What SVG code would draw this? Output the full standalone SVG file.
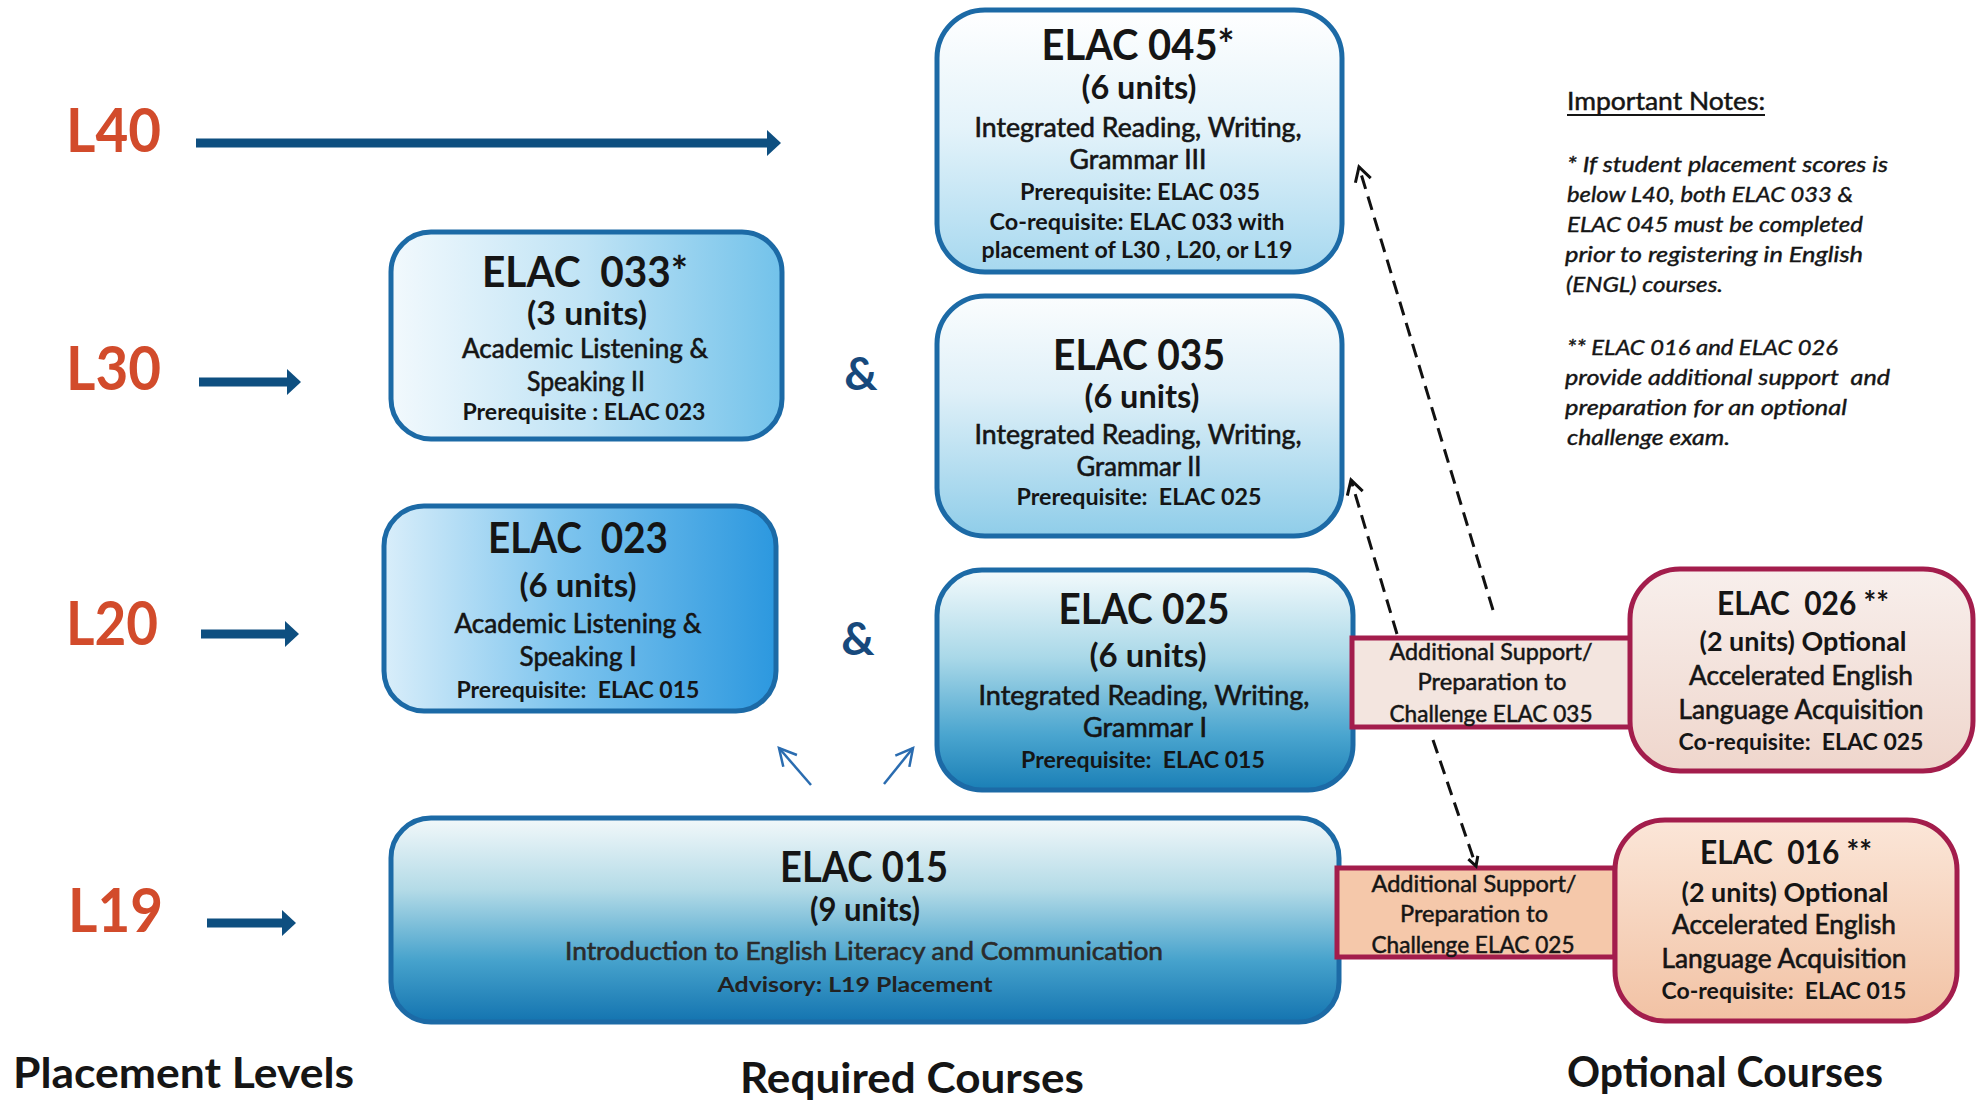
<svg xmlns="http://www.w3.org/2000/svg" width="1981" height="1102" viewBox="0 0 1981 1102">
<style>
text { font-family: Lato, "Open Sans", "Liberation Sans", sans-serif; fill: #151515; }
.c { text-anchor: middle; }
.b { font-weight: 700; }
.w { stroke: #151515; stroke-width: 0.6px; }
.lvl { font-weight: 700; font-size: 62px; fill: #d24b2b; }
.amp { font-weight: 700; font-size: 46px; fill: #17497c; text-anchor: middle; }
.title { font-weight: 700; font-size: 42px; }
.units { font-weight: 700; font-size: 32px; }
.body { font-size: 26px; stroke: #151515; stroke-width: 0.6px; }
.req { font-weight: 700; font-size: 22px; }
.sup { font-size: 23px; stroke: #151515; stroke-width: 0.5px; }
.note { font-size: 21px; font-style: italic; stroke: #151515; stroke-width: 0.4px; }
.foot { font-weight: 700; font-size: 42px; }
.blue { stroke: #1c6aa6; stroke-width: 5; }
.red { stroke: #a31d4c; stroke-width: 5; }
.dash { stroke: #111; stroke-width: 3; stroke-dasharray: 14 8; fill: none; }
.thick { stroke: #0e4f80; stroke-width: 9; fill: none; }
.thin { stroke: #2a6cb0; stroke-width: 2.5; fill: none; }
</style>
<defs>
<linearGradient id="gPale" x1="0" y1="0" x2="0" y2="1">
<stop offset="0" stop-color="#ffffff"/><stop offset="0.45" stop-color="#e4f3fa"/><stop offset="1" stop-color="#a6d8ef"/>
</linearGradient>
<linearGradient id="gPale2" x1="0" y1="0" x2="0" y2="1">
<stop offset="0" stop-color="#fbfdfe"/><stop offset="0.4" stop-color="#dff0f8"/><stop offset="1" stop-color="#8fcde9"/>
</linearGradient>
<linearGradient id="g033" x1="0" y1="0" x2="1" y2="0">
<stop offset="0" stop-color="#f2f9fd"/><stop offset="0.5" stop-color="#bfe3f5"/><stop offset="1" stop-color="#72c2ea"/>
</linearGradient>
<linearGradient id="g023" x1="0" y1="0" x2="1" y2="0">
<stop offset="0" stop-color="#d9eefa"/><stop offset="0.45" stop-color="#7fc5ee"/><stop offset="1" stop-color="#2c98df"/>
</linearGradient>
<linearGradient id="g025" x1="0" y1="0" x2="0" y2="1">
<stop offset="0" stop-color="#f3fafc"/><stop offset="0.4" stop-color="#a9d8e8"/><stop offset="0.75" stop-color="#4aa5cf"/><stop offset="1" stop-color="#1a7fb6"/>
</linearGradient>
<linearGradient id="g015" x1="0" y1="0" x2="0" y2="1">
<stop offset="0" stop-color="#f2f8fa"/><stop offset="0.35" stop-color="#b4dbe7"/><stop offset="0.7" stop-color="#46a2cc"/><stop offset="1" stop-color="#1474b0"/>
</linearGradient>
<linearGradient id="g026" x1="0" y1="0" x2="0" y2="1">
<stop offset="0" stop-color="#f8efec"/><stop offset="1" stop-color="#efd6cc"/>
</linearGradient>
<linearGradient id="g016" x1="0" y1="0" x2="0" y2="1">
<stop offset="0" stop-color="#fbe6d8"/><stop offset="1" stop-color="#f2c2a4"/>
</linearGradient>
<marker id="fat" markerUnits="userSpaceOnUse" markerWidth="14" markerHeight="26" refX="0" refY="13" orient="auto">
<path d="M0,0 L14,13 L0,26 z" fill="#0e4f80"/>
</marker>
<marker id="chev" markerUnits="userSpaceOnUse" markerWidth="20" markerHeight="20" refX="16" refY="10" orient="auto">
<path d="M2,2 L16,10 L2,18" fill="none" stroke="#111" stroke-width="3"/>
</marker>
<marker id="chevS" markerUnits="userSpaceOnUse" markerWidth="14" markerHeight="14" refX="11" refY="7" orient="auto">
<path d="M2,2 L11,7 L2,12" fill="none" stroke="#111" stroke-width="3"/>
</marker>
<marker id="bchev" markerUnits="userSpaceOnUse" markerWidth="24" markerHeight="24" refX="20" refY="12" orient="auto">
<path d="M3,3 L20,12 L3,21" fill="none" stroke="#2a6cb0" stroke-width="2.5"/>
</marker>
</defs>
<rect width="1981" height="1102" fill="#ffffff"/>

<g id="levels">
<text class="lvl" x="66" y="152" textLength="95" lengthAdjust="spacingAndGlyphs">L40</text>
<text class="lvl" x="66" y="390" textLength="95" lengthAdjust="spacingAndGlyphs">L30</text>
<text class="lvl" x="66" y="645" textLength="92" lengthAdjust="spacingAndGlyphs">L20</text>
<text class="lvl" x="68" y="932" textLength="95" lengthAdjust="spacingAndGlyphs">L19</text>
</g>

<g id="connectors">
<line class="thick" x1="196" y1="143" x2="767" y2="143" marker-end="url(#fat)"/>
<line class="thick" x1="199" y1="382" x2="287" y2="382" marker-end="url(#fat)"/>
<line class="thick" x1="201" y1="634" x2="285" y2="634" marker-end="url(#fat)"/>
<line class="thick" x1="207" y1="923" x2="282" y2="923" marker-end="url(#fat)"/>
<line class="thin" x1="811" y1="785" x2="779" y2="748" marker-end="url(#bchev)"/>
<line class="thin" x1="884" y1="784" x2="913" y2="748" marker-end="url(#bchev)"/>
</g>

<g id="node-elac045">
<rect x="937" y="10" width="405" height="262" rx="48" fill="url(#gPale)" class="blue"/>
<text class="c title" x="1138" y="60" textLength="193" lengthAdjust="spacingAndGlyphs">ELAC 045*</text>
<text class="c units" x="1139" y="99" textLength="115" lengthAdjust="spacingAndGlyphs">(6 units)</text>
<text class="c body" x="1138" y="137" textLength="327" lengthAdjust="spacingAndGlyphs">Integrated Reading, Writing,</text>
<text class="c body" x="1138" y="169" textLength="137" lengthAdjust="spacingAndGlyphs">Grammar III</text>
<text class="c req" x="1140" y="200" textLength="240" lengthAdjust="spacingAndGlyphs">Prerequisite: ELAC 035</text>
<text class="c req" x="1137" y="230" textLength="295" lengthAdjust="spacingAndGlyphs">Co-requisite: ELAC 033 with</text>
<text class="c req" x="1137" y="258" textLength="311" lengthAdjust="spacingAndGlyphs">placement of L30 , L20, or L19</text>
</g>

<g id="node-elac033">
<rect x="391" y="232" width="391" height="207" rx="40" fill="url(#g033)" class="blue"/>
<text class="c title" x="585" y="287" textLength="206" lengthAdjust="spacingAndGlyphs" xml:space="preserve">ELAC  033*</text>
<text class="c units" x="587" y="325" textLength="120" lengthAdjust="spacingAndGlyphs">(3 units)</text>
<text class="c body" x="585" y="358" textLength="246" lengthAdjust="spacingAndGlyphs">Academic Listening &amp;</text>
<text class="c body" x="586" y="391" textLength="118" lengthAdjust="spacingAndGlyphs">Speaking II</text>
<text class="c req" x="584" y="420" textLength="243" lengthAdjust="spacingAndGlyphs">Prerequisite : ELAC 023</text>
</g>

<text class="amp" x="861" y="390">&amp;</text>
<text class="amp" x="858" y="655">&amp;</text>

<g id="node-elac035">
<rect x="937" y="296" width="405" height="240" rx="48" fill="url(#gPale2)" class="blue"/>
<text class="c title" x="1139" y="370" textLength="172" lengthAdjust="spacingAndGlyphs">ELAC 035</text>
<text class="c units" x="1142" y="408" textLength="115" lengthAdjust="spacingAndGlyphs">(6 units)</text>
<text class="c body" x="1138" y="444" textLength="327" lengthAdjust="spacingAndGlyphs">Integrated Reading, Writing,</text>
<text class="c body" x="1139" y="476" textLength="125" lengthAdjust="spacingAndGlyphs">Grammar II</text>
<text class="c req" x="1139" y="505" textLength="245" lengthAdjust="spacingAndGlyphs" xml:space="preserve">Prerequisite:  ELAC 025</text>
</g>

<g id="node-elac023">
<rect x="384" y="506" width="392" height="205" rx="40" fill="url(#g023)" class="blue"/>
<text class="c title" x="578" y="553" textLength="180" lengthAdjust="spacingAndGlyphs" xml:space="preserve">ELAC  023</text>
<text class="c units" x="578" y="597" textLength="117" lengthAdjust="spacingAndGlyphs">(6 units)</text>
<text class="c body" x="578" y="633" textLength="247" lengthAdjust="spacingAndGlyphs">Academic Listening &amp;</text>
<text class="c body" x="578" y="666" textLength="117" lengthAdjust="spacingAndGlyphs">Speaking I</text>
<text class="c req" x="578" y="698" textLength="243" lengthAdjust="spacingAndGlyphs" xml:space="preserve">Prerequisite:  ELAC 015</text>
</g>

<g id="node-elac025">
<rect x="937" y="570" width="416" height="220" rx="45" fill="url(#g025)" class="blue"/>
<text class="c title" x="1144" y="624" textLength="171" lengthAdjust="spacingAndGlyphs">ELAC 025</text>
<text class="c units" x="1148" y="667" textLength="117" lengthAdjust="spacingAndGlyphs">(6 units)</text>
<text class="c body" x="1144" y="705" textLength="331" lengthAdjust="spacingAndGlyphs">Integrated Reading, Writing,</text>
<text class="c body" x="1145" y="737" textLength="124" lengthAdjust="spacingAndGlyphs">Grammar I</text>
<text class="c req" x="1143" y="768" textLength="244" lengthAdjust="spacingAndGlyphs" xml:space="preserve">Prerequisite:  ELAC 015</text>
</g>

<g id="node-elac015">
<rect x="391" y="818" width="948" height="204" rx="40" fill="url(#g015)" class="blue"/>
<text class="c title" x="864" y="882" textLength="168" lengthAdjust="spacingAndGlyphs">ELAC 015</text>
<text class="c units" x="865" y="921" textLength="110" lengthAdjust="spacingAndGlyphs">(9 units)</text>
<text class="c body" x="864" y="960" textLength="598" lengthAdjust="spacingAndGlyphs" style="font-size:25px;fill:#2b2b2b;stroke:#2b2b2b">Introduction to English Literacy and Communication</text>
<text class="c req" x="855" y="992" textLength="275" lengthAdjust="spacingAndGlyphs" style="font-size:21px;fill:#222">Advisory: L19 Placement</text>
</g>

<g id="node-support035">
<rect x="1352" y="638" width="280" height="89" fill="#f3e5df" class="red"/>
<text class="c sup" x="1491" y="660" textLength="203" lengthAdjust="spacingAndGlyphs">Additional Support/</text>
<text class="c sup" x="1492" y="690" textLength="149" lengthAdjust="spacingAndGlyphs">Preparation to</text>
<text class="c sup" x="1491" y="722" textLength="203" lengthAdjust="spacingAndGlyphs">Challenge ELAC 035</text>
</g>

<g id="node-support025">
<rect x="1337" y="868" width="278" height="89" fill="#f5c8aa" class="red"/>
<text class="c sup" x="1474" y="892" textLength="205" lengthAdjust="spacingAndGlyphs">Additional Support/</text>
<text class="c sup" x="1474" y="922" textLength="148" lengthAdjust="spacingAndGlyphs">Preparation to</text>
<text class="c sup" x="1473" y="953" textLength="203" lengthAdjust="spacingAndGlyphs">Challenge ELAC 025</text>
</g>

<g id="node-elac026">
<rect x="1630" y="569" width="343" height="202" rx="50" fill="url(#g026)" class="red"/>
<text class="c b" x="1803" y="615" textLength="172" lengthAdjust="spacingAndGlyphs" xml:space="preserve" style="font-size:32px">ELAC  026 **</text>
<text class="c b" x="1803" y="651" textLength="207" lengthAdjust="spacingAndGlyphs" style="font-size:26px">(2 units) Optional</text>
<text class="c body" x="1801" y="685" textLength="224" lengthAdjust="spacingAndGlyphs">Accelerated English</text>
<text class="c body" x="1801" y="719" textLength="245" lengthAdjust="spacingAndGlyphs">Language Acquisition</text>
<text class="c req" x="1801" y="750" textLength="245" lengthAdjust="spacingAndGlyphs" xml:space="preserve">Co-requisite:  ELAC 025</text>
</g>

<g id="node-elac016">
<rect x="1615" y="820" width="342" height="201" rx="50" fill="url(#g016)" class="red"/>
<text class="c b" x="1786" y="864" textLength="172" lengthAdjust="spacingAndGlyphs" xml:space="preserve" style="font-size:32px">ELAC  016 **</text>
<text class="c b" x="1785" y="902" textLength="207" lengthAdjust="spacingAndGlyphs" style="font-size:26px">(2 units) Optional</text>
<text class="c body" x="1784" y="934" textLength="224" lengthAdjust="spacingAndGlyphs">Accelerated English</text>
<text class="c body" x="1784" y="968" textLength="245" lengthAdjust="spacingAndGlyphs">Language Acquisition</text>
<text class="c req" x="1784" y="999" textLength="245" lengthAdjust="spacingAndGlyphs" xml:space="preserve">Co-requisite:  ELAC 015</text>
</g>

<g id="dashed-connectors">
<line class="dash" x1="1493" y1="610" x2="1359" y2="167" marker-end="url(#chev)"/>
<line class="dash" x1="1397" y1="634" x2="1351" y2="480" marker-end="url(#chev)"/>
<line class="dash" x1="1433" y1="740" x2="1476" y2="866" marker-end="url(#chevS)"/>
</g>

<g id="notes">
<text x="1567" y="110" textLength="198" lengthAdjust="spacingAndGlyphs" style="font-size:25px;stroke:#151515;stroke-width:0.5px">Important Notes:</text>
<line x1="1567" y1="115" x2="1765" y2="115" stroke="#151515" stroke-width="2"/>
<text class="note" x="1567" y="172" textLength="321" lengthAdjust="spacingAndGlyphs">* If student placement scores is</text>
<text class="note" x="1567" y="202" textLength="286" lengthAdjust="spacingAndGlyphs">below L40, both ELAC 033 &amp;</text>
<text class="note" x="1567" y="232" textLength="296" lengthAdjust="spacingAndGlyphs">ELAC 045 must be completed</text>
<text class="note" x="1565" y="262" textLength="298" lengthAdjust="spacingAndGlyphs">prior to registering in English</text>
<text class="note" x="1566" y="292" textLength="157" lengthAdjust="spacingAndGlyphs">(ENGL) courses.</text>
<text class="note" x="1567" y="355" textLength="271" lengthAdjust="spacingAndGlyphs">** ELAC 016 and ELAC 026</text>
<text class="note" x="1565" y="385" textLength="325" lengthAdjust="spacingAndGlyphs" xml:space="preserve">provide additional support  and</text>
<text class="note" x="1565" y="415" textLength="282" lengthAdjust="spacingAndGlyphs">preparation for an optional</text>
<text class="note" x="1567" y="445" textLength="163" lengthAdjust="spacingAndGlyphs">challenge exam.</text>
</g>

<g id="footers">
<text class="foot" x="13" y="1088" textLength="341" lengthAdjust="spacingAndGlyphs">Placement Levels</text>
<text class="foot" x="740" y="1093" textLength="344" lengthAdjust="spacingAndGlyphs">Required Courses</text>
<text class="foot" x="1567" y="1087" textLength="316" lengthAdjust="spacingAndGlyphs">Optional Courses</text>
</g>
</svg>
